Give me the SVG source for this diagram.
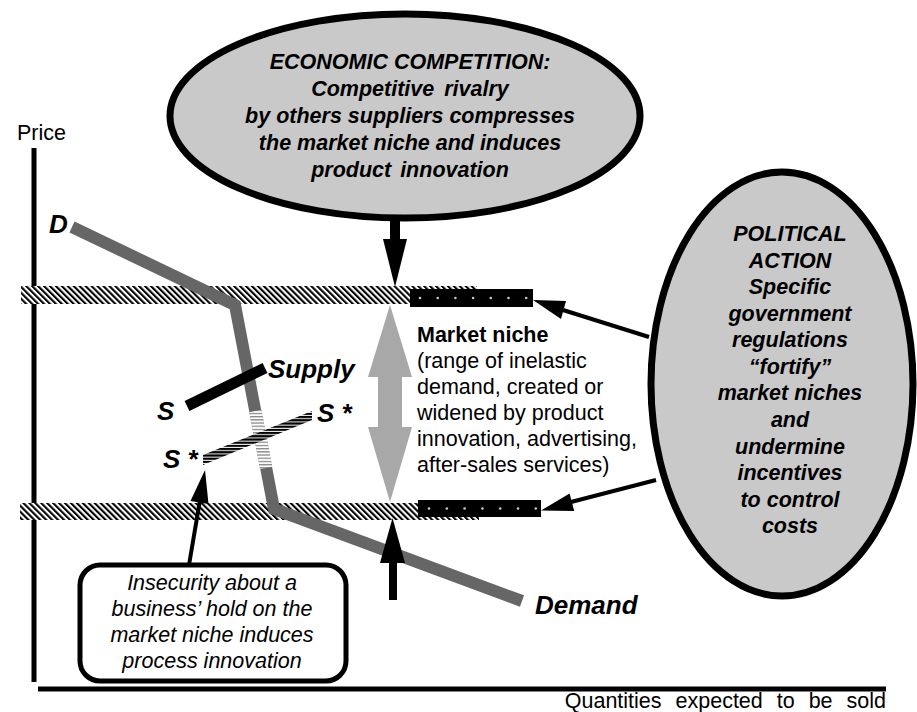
<svg xmlns="http://www.w3.org/2000/svg" width="917" height="712" viewBox="0 0 917 712">
<defs>
<pattern id="hatch" width="4.2" height="10" patternUnits="userSpaceOnUse" patternTransform="rotate(-45)">
<rect width="4.2" height="10" fill="#fff"/><rect width="2.1" height="10" fill="#000"/>
</pattern>
<pattern id="hstripe" width="10" height="3.2" patternUnits="userSpaceOnUse">
<rect width="10" height="3.2" fill="#fff"/><rect width="10" height="2.2" fill="#000"/>
</pattern>
<pattern id="hstripeGray" width="10" height="3.2" patternUnits="userSpaceOnUse">
<rect width="10" height="3.2" fill="#fff"/><rect width="10" height="1.3" fill="#888"/>
</pattern>
</defs>
<style>
.t{font-family:"Liberation Sans",Arial,Helvetica,sans-serif;font-size:21.5px;fill:#000}
.bi{font-weight:bold;font-style:italic}
.i{font-style:italic}
.b{font-weight:bold}
.big{font-size:26px}
.mid{text-anchor:middle}
.ell{fill:#c9c9c9;stroke:#000;stroke-width:7}
.band{fill:url(#hatch)}
.bar{fill:#000}
.dot{fill:#c8c8c8}
.ax{stroke:#000;stroke-width:5;fill:none}
.lead{stroke:#000;stroke-width:4;fill:none}
.head{fill:#000}
</style>

<g id="axes">
<line class="ax" x1="34" y1="148" x2="34" y2="682"/>
<line class="ax" x1="38" y1="689" x2="886" y2="689"/>
<text class="t" x="17" y="140">Price</text>
<text class="t" x="886" y="708" text-anchor="end" word-spacing="8">Quantities expected to be sold</text>
</g>

<g id="bands">
<rect class="band" x="21" y="286" width="456" height="18"/>
<rect class="band" x="20" y="503" width="459" height="17"/>
</g>

<g id="niche-bars">
<rect class="bar" x="410" y="289" width="123" height="18"/>
<g class="dot">
<circle cx="420" cy="298" r="1.3"/><circle cx="437.7" cy="298" r="1.3"/><circle cx="455.4" cy="298" r="1.3"/><circle cx="473.1" cy="298" r="1.3"/><circle cx="490.8" cy="298" r="1.3"/><circle cx="508.5" cy="298" r="1.3"/><circle cx="526.2" cy="298" r="1.3"/>
</g>
<rect class="bar" x="418" y="500" width="123" height="17"/>
<g class="dot">
<circle cx="429" cy="508.5" r="1.3"/><circle cx="446.8" cy="508.5" r="1.3"/><circle cx="464.6" cy="508.5" r="1.3"/><circle cx="482.4" cy="508.5" r="1.3"/><circle cx="500.2" cy="508.5" r="1.3"/><circle cx="518" cy="508.5" r="1.3"/><circle cx="535.8" cy="508.5" r="1.3"/>
</g>
</g>

<g id="demand">
<polyline points="72,227 235,305 274,509 522,601" fill="none" stroke="#666" stroke-width="12" stroke-linejoin="miter"/>
<line x1="255.3" y1="411" x2="266.2" y2="468" stroke="url(#hstripeGray)" stroke-width="12.5"/>
<text class="t bi big" x="49" y="233">D</text>
<text class="t bi big" x="535" y="614">Demand</text>
</g>

<g id="supply">
<line x1="187" y1="406" x2="265" y2="368" stroke="#000" stroke-width="11"/>
<text class="t bi big" x="268" y="378">Supply</text>
<text class="t bi big" x="157" y="420">S</text>
</g>

<g id="supply-star">
<polygon points="203,455 312,411 312,420 203,465" fill="url(#hstripe)"/>
<text class="t bi big" x="317" y="422">S *</text>
<text class="t bi big" x="163" y="468">S *</text>
</g>

<g id="niche-arrow">
<polygon points="390,305 412,377 402,377 402,427 412,427 390,502 368,427 378,427 378,377 368,377" fill="#a8a8a8"/>
</g>

<g id="niche-label">
<text class="t b" x="417" y="342">Market niche</text>
<text class="t" x="417" y="367.5">(range of inelastic</text>
<text class="t" x="417" y="393.5">demand, created or</text>
<text class="t" x="417" y="419.5">widened by product</text>
<text class="t" x="417" y="445.5">innovation, advertising,</text>
<text class="t" x="417" y="471.5">after-sales services)</text>
</g>

<g id="economic-competition">
<ellipse class="ell" cx="405" cy="116" rx="235" ry="102"/>
<text class="t bi mid" x="410" y="69">ECONOMIC COMPETITION:</text>
<text class="t bi mid" x="410" y="96" word-spacing="4">Competitive rivalry</text>
<text class="t bi mid" x="410" y="123">by others suppliers compresses</text>
<text class="t bi mid" x="410" y="150">the market niche and induces</text>
<text class="t bi mid" x="410" y="177" word-spacing="3">product innovation</text>
</g>

<g id="political-action">
<ellipse class="ell" cx="782" cy="384" rx="131" ry="212"/>
<text class="t bi mid" x="790" y="241">POLITICAL</text>
<text class="t bi mid" x="790" y="267.5">ACTION</text>
<text class="t bi mid" x="790" y="294">Specific</text>
<text class="t bi mid" x="790" y="320.5">government</text>
<text class="t bi mid" x="790" y="347">regulations</text>
<text class="t bi mid" x="790" y="374">“fortify”</text>
<text class="t bi mid" x="790" y="400">market niches</text>
<text class="t bi mid" x="790" y="427">and</text>
<text class="t bi mid" x="790" y="453.5">undermine</text>
<text class="t bi mid" x="790" y="480">incentives</text>
<text class="t bi mid" x="790" y="506.5">to control</text>
<text class="t bi mid" x="790" y="533">costs</text>
</g>

<g id="insecurity">
<rect x="80" y="565" width="266" height="116" rx="20" ry="20" fill="#fff" stroke="#000" stroke-width="5"/>
<text class="t i mid" x="212" y="590">Insecurity about a</text>
<text class="t i mid" x="212" y="616">business’ hold on the</text>
<text class="t i mid" x="212" y="641.5">market niche induces</text>
<text class="t i mid" x="212" y="667.5">process innovation</text>
</g>

<g id="connectors">
<rect x="390" y="217" width="10" height="23" class="head"/>
<polygon class="head" points="383,239 407,239 395,287"/>
<rect x="389" y="561" width="8" height="39" class="head"/>
<polygon class="head" points="380,563 405,563 392.5,518"/>
<line class="lead" x1="563" y1="310" x2="649" y2="337"/>
<polygon class="head" points="533,300 566,301 561,319"/>
<line class="lead" x1="571" y1="502" x2="656" y2="480"/>
<polygon class="head" points="541,510.5 569.6,493.5 574.2,511"/>
<line class="lead" x1="189" y1="565" x2="200" y2="500"/>
<polygon class="head" points="205,470 208.5,504 190.5,501"/>
</g>
</svg>
